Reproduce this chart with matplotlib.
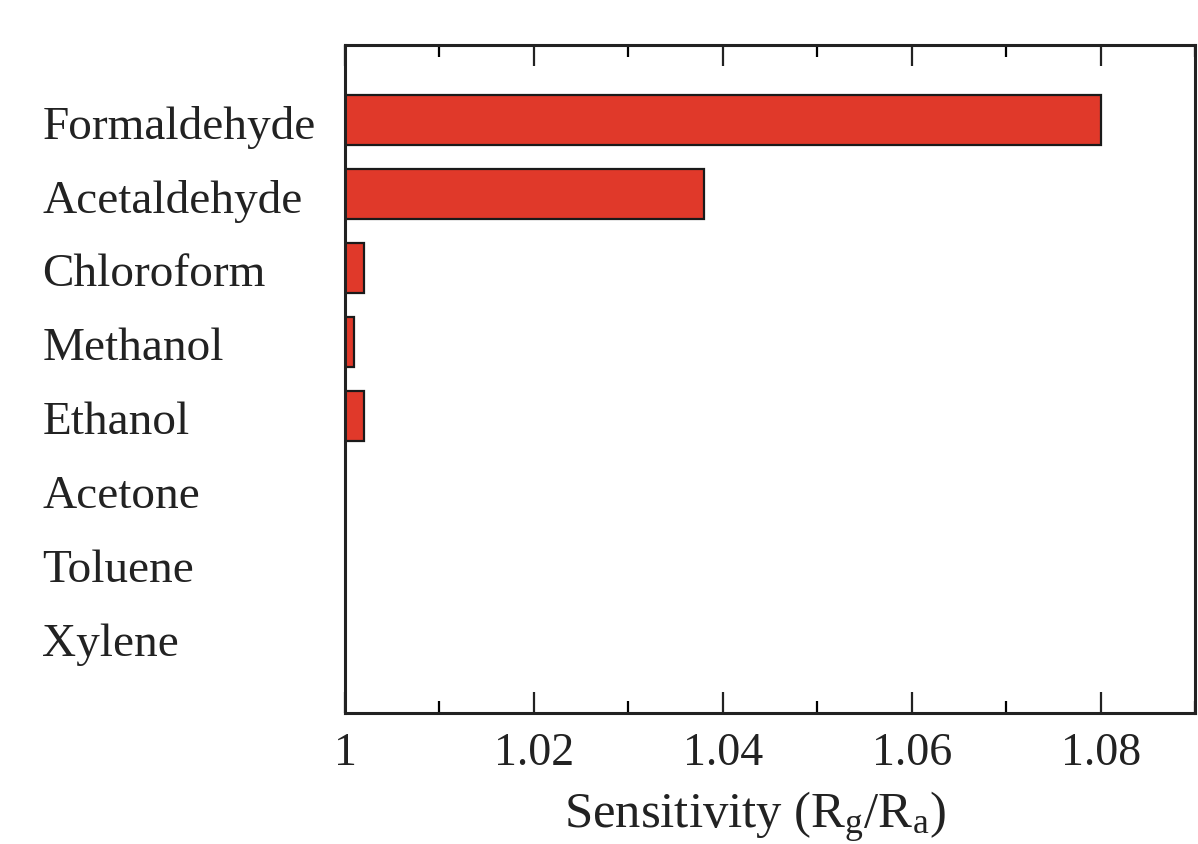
import matplotlib
matplotlib.use("Agg")
import matplotlib.pyplot as plt
import matplotlib.transforms as mtransforms
from matplotlib.ticker import MultipleLocator, FixedLocator

categories = ["Formaldehyde", "Acetaldehyde", "Chloroform", "Methanol",
              "Ethanol", "Acetone", "Toluene", "Xylene"]
sensitivity = [1.080, 1.038, 1.002, 1.001, 1.002, 1.000, 1.000, 1.000]
xticks = [1.00, 1.02, 1.04, 1.06, 1.08]
xtick_labels = ["1", "1.02", "1.04", "1.06", "1.08"]

plt.rcParams['font.family'] = ['Liberation Serif', 'DejaVu Serif']
plt.rcParams['mathtext.fontset'] = 'custom'
plt.rcParams['mathtext.rm'] = 'Liberation Serif'
plt.rcParams['mathtext.it'] = 'Liberation Serif'

fig = plt.figure(figsize=(11.98, 8.44), dpi=100)
ax = fig.add_axes([0.288, 0.1552, 0.7095, 0.7915])

base = 1.0
ypos = list(range(len(categories)))
widths = [v - base for v in sensitivity]
ax.barh(ypos, widths, left=base, height=0.68, color='#E0392A',
        edgecolor='#1a1a1a', linewidth=1.6, zorder=2)

ax.set_xlim(1.0, 1.09)
ax.set_ylim(len(categories) - 1 + 1.014, -1.014)

ax.xaxis.set_major_locator(FixedLocator(xticks))
ax.set_xticklabels(xtick_labels)
ax.xaxis.set_minor_locator(MultipleLocator(0.01))
ax.tick_params(axis='x', which='major', direction='in', length=15, width=1.6,
               top=True, bottom=True, labelsize=33, pad=14, colors='#222222')
ax.tick_params(axis='x', which='minor', direction='in', length=8.5, width=1.6,
               top=True, bottom=True)

ax.set_yticks(ypos)
ax.set_yticklabels(categories)
ax.tick_params(axis='y', which='both', length=0, labelsize=34, pad=218,
               colors='#222222')
offset = mtransforms.ScaledTranslation(0, -0.02, fig.dpi_scale_trans)
for lbl in ax.get_yticklabels():
    lbl.set_horizontalalignment('left')
    lbl.set_transform(lbl.get_transform() + offset)

for s in ax.spines.values():
    s.set_linewidth(2.2)
    s.set_color('#222222')

ax.set_xlabel(r'Sensitivity (R$_\mathrm{g}$/R$_\mathrm{a}$)', fontsize=36.5,
              color='#222222')
ax.xaxis.set_label_coords(0.482, -0.115)

fig.savefig('out.png', dpi=100)
